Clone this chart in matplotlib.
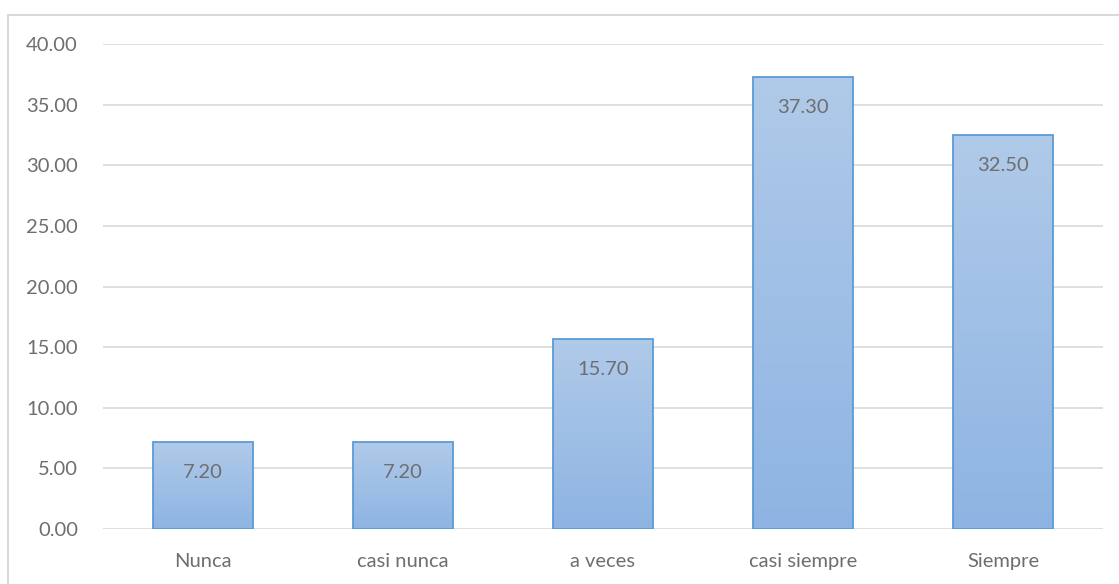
import numpy as np
import matplotlib.pyplot as plt
from matplotlib.patches import Rectangle
from matplotlib.colors import LinearSegmentedColormap

# Datos del grafico
categorias = ['Nunca', 'casi nunca', 'a veces', 'casi siempre', 'Siempre']
porcentajes = [7.20, 7.20, 15.70, 37.30, 32.50]
ticks_y = [0, 5, 10, 15, 20, 25, 30, 35, 40]

plt.rcParams['font.family'] = ['Lato', 'DejaVu Sans']
gris = '#6E6E6E'

W, H = 1119, 584
fig = plt.figure(figsize=(W / 100, H / 100), dpi=100)
ax = fig.add_axes([103 / W, (H - 529) / H, 1000 / W, (529 - 44) / H])

x = np.arange(len(categorias))
barras = ax.bar(x, porcentajes, width=0.5, color='none', edgecolor='#5B9BD5',
                linewidth=1.3, zorder=3)

# Relleno degradado (claro arriba, mas oscuro abajo)
cmap = LinearSegmentedColormap.from_list('grad', ['#8EB4E3', '#B0CAE9'])
grad = np.linspace(0, 1, 256).reshape(-1, 1)
for b in barras:
    x0, y0 = b.get_x(), b.get_y()
    im = ax.imshow(grad, cmap=cmap, aspect='auto', origin='lower',
                   extent=[x0, x0 + b.get_width(), y0, y0 + b.get_height()],
                   zorder=2)
    im.set_clip_path(b)

# Etiquetas de datos dentro de la barra
for xi, v in zip(x, porcentajes):
    ax.annotate(f'{v:.2f}', (xi, v), xytext=(0, -22), textcoords='offset points',
                ha='center', va='center', fontsize=14.5, color=gris, zorder=4)

ax.set_xlim(-0.5, len(categorias) - 0.5)
ax.set_ylim(0, 40)
ax.set_yticks(ticks_y)
ax.set_yticklabels([f'{t:.2f}' for t in ticks_y])
ax.set_xticks(x)
ax.set_xticklabels(categorias)
ax.tick_params(axis='both', length=0, labelsize=14.5, labelcolor=gris)
ax.tick_params(axis='y', pad=18)
ax.tick_params(axis='x', pad=17)
ax.grid(axis='y', color='#D9D9D9', linewidth=1.2, zorder=0)
ax.set_axisbelow(True)
for s in ax.spines.values():
    s.set_visible(False)

# Borde del area del grafico
fig.patches.append(Rectangle((8 / W, -0.1), 1.2, (H - 15) / H + 0.1,
                             transform=fig.transFigure, fill=False,
                             edgecolor='#D9D9D9', linewidth=1.5))

fig.savefig('out.png', dpi=100)
